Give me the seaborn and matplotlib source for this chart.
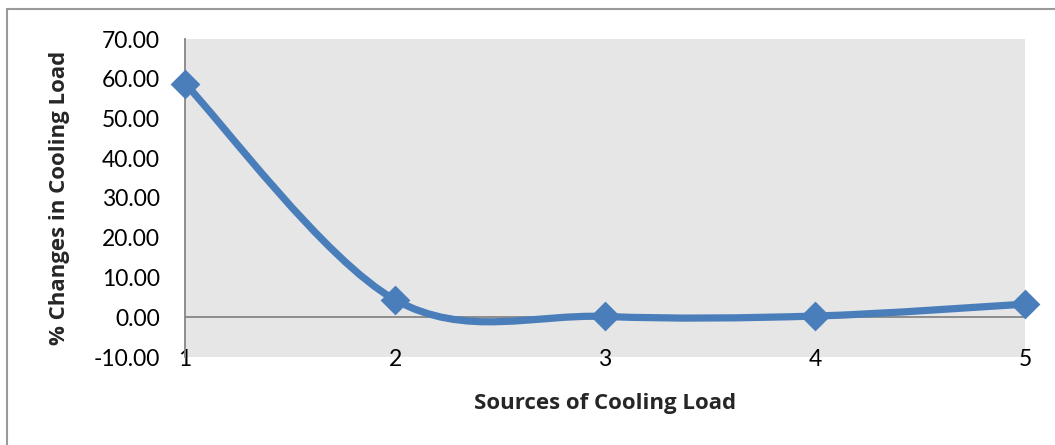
import numpy as np
import pandas as pd
import matplotlib
matplotlib.use("Agg")
import matplotlib.pyplot as plt
import seaborn as sns
from matplotlib.path import Path
from matplotlib.patches import PathPatch
from matplotlib.lines import Line2D

# data
sources = [1, 2, 3, 4, 5]
changes = [58.8, 4.4, 0.2, 0.3, 3.3]
y_ticks = [-10, 0, 10, 20, 30, 40, 50, 60, 70]

df = pd.DataFrame({'source': sources, 'change': changes})

sns.set_theme(style='white')
plt.rcParams['font.family'] = ['Lato', 'DejaVu Sans']

blue = '#4A7EBB'

fig = plt.figure(figsize=(10.55, 4.45), dpi=100)
ax = fig.add_axes([185/1055, 1-357/445, (1025-185)/1055, (357-39)/445])
ax.set_facecolor('#E6E6E6')

# Excel style smoothed line: bezier segments through the points
pts = list(zip(df.source, df.change))
verts = [pts[0]]
codes = [Path.MOVETO]
for i in range(len(pts) - 1):
    p0 = np.array(pts[max(i - 1, 0)])
    p1 = np.array(pts[i])
    p2 = np.array(pts[i + 1])
    p3 = np.array(pts[min(i + 2, len(pts) - 1)])
    c1 = p1 + (p2 - p0) / 6
    c2 = p2 - (p3 - p1) / 6
    verts += [tuple(c1), tuple(c2), tuple(p2)]
    codes += [Path.CURVE4] * 3
ax.add_patch(PathPatch(Path(verts, codes), facecolor='none', edgecolor=blue,
                       lw=5.2, capstyle='round', joinstyle='round', zorder=3))

ax.axhline(0, color='#868686', lw=1.3, zorder=2)

sns.scatterplot(data=df, x='source', y='change', marker='D', s=230,
                color=blue, edgecolor=blue, linewidth=0, ax=ax, zorder=4,
                clip_on=False)

ax.set_xlim(1, 5)
ax.set_ylim(-10, 70)
ax.set_yticks(y_ticks)
ax.set_yticklabels([f'{v:.2f}' for v in y_ticks])
ax.set_xticks(sources)
ax.set_xticklabels([str(s) for s in sources])
ax.tick_params(axis='y', length=0, pad=18, labelsize=16.5, colors='black')
ax.tick_params(axis='x', length=0, pad=-6, labelsize=16.5, colors='black')

for side in ['top', 'right', 'bottom']:
    ax.spines[side].set_visible(False)
ax.spines['left'].set_color('#868686')
ax.spines['left'].set_linewidth(1.3)

ax.set_xlabel('')
ax.set_ylabel('')
label_font = ['Open Sans', 'DejaVu Sans']
fig.text(605/1055, 1-404/445, 'Sources of Cooling Load', ha='center', va='center',
         fontsize=16, fontweight='bold', family=label_font)
fig.text(60/1055, 1-198/445, '% Changes in Cooling Load', ha='center', va='center',
         rotation=90, fontsize=16, fontweight='bold', family=label_font)

# outer chart border
fig.add_artist(Line2D([7/1055, 1], [1-9/445, 1-9/445], color='#9A9A9A', lw=1.5))
fig.add_artist(Line2D([7/1055, 7/1055], [0, 1-9/445], color='#9A9A9A', lw=1.5))

fig.savefig('out.png', dpi=100)
